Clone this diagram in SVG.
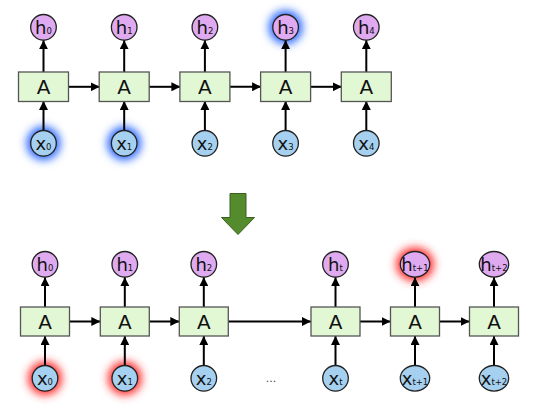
<svg xmlns="http://www.w3.org/2000/svg" width="544" height="406" viewBox="0 0 544 406">
<defs>
<marker id="ah" viewBox="0 0 10 10" refX="10" refY="5" markerWidth="9" markerHeight="9" markerUnits="userSpaceOnUse" orient="auto"><path d="M0,0 L10,5 L0,10 z" fill="#000"/></marker>
<filter id="blur" x="-1" y="-1" width="3" height="3"><feGaussianBlur stdDeviation="4"/></filter>
<style>
.box{fill:#e2f7d4;stroke:#555;stroke-width:1.3}
.h{fill:#dfaaf0;stroke:#222;stroke-width:1.3}
.x{fill:#a5d0ef;stroke:#222;stroke-width:1.3}
.ln{stroke:#000;stroke-width:2;fill:none;marker-end:url(#ah)}
.A{font-family:"DejaVu Sans",sans-serif;font-size:20px;fill:#111;text-anchor:middle}
.t{font-family:"DejaVu Sans",sans-serif;font-size:18px;fill:#111;text-anchor:middle}
.s{font-size:8.5px}
.gb{fill:#2f6bff;filter:url(#blur)}
.gr{fill:#ff3030;filter:url(#blur)}
</style>
</defs>
<rect width="544" height="406" fill="#fff"/>
<g id="glows">
<circle class="gb" cx="43.5" cy="143.3" r="17"/>
<circle class="gb" cx="124.2" cy="143.3" r="17"/>
<circle class="gb" cx="285.6" cy="27.3" r="17"/>
<circle class="gr" cx="45" cy="378.3" r="17"/>
<circle class="gr" cx="124.8" cy="378.3" r="17"/>
<ellipse class="gr" cx="415" cy="264.3" rx="19" ry="17"/>
</g>
<g id="connectors">
<path class="ln" d="M43.5,130.5 V101"/><path class="ln" d="M43.5,72 V40.2"/>
<path class="ln" d="M124.2,130.5 V101"/><path class="ln" d="M124.2,72 V40.2"/>
<path class="ln" d="M204.9,130.5 V101"/><path class="ln" d="M204.9,72 V40.2"/>
<path class="ln" d="M285.6,130.5 V101"/><path class="ln" d="M285.6,72 V40.2"/>
<path class="ln" d="M366.3,130.5 V101"/><path class="ln" d="M366.3,72 V40.2"/>
<path class="ln" d="M68.5,86.8 H99.7"/>
<path class="ln" d="M149.2,86.8 H180.4"/>
<path class="ln" d="M229.9,86.8 H261.1"/>
<path class="ln" d="M310.6,86.8 H341.8"/>
<path class="ln" d="M45,365.5 V336"/><path class="ln" d="M45,307 V277.2"/>
<path class="ln" d="M124.8,365.5 V336"/><path class="ln" d="M124.8,307 V277.2"/>
<path class="ln" d="M203.8,365.5 V336"/><path class="ln" d="M203.8,307 V277.2"/>
<path class="ln" d="M335.5,365.5 V336"/><path class="ln" d="M335.5,307 V277.2"/>
<path class="ln" d="M415,365.5 V336"/><path class="ln" d="M415,307 V277.2"/>
<path class="ln" d="M494,365.5 V336"/><path class="ln" d="M494,307 V277.2"/>
<path class="ln" d="M69.5,321.5 H100.3"/>
<path class="ln" d="M149.3,321.5 H179.3"/>
<path class="ln" d="M228.3,321.5 H311"/>
<path class="ln" d="M360,321.5 H390.5"/>
<path class="ln" d="M439.5,321.5 H469.5"/>
</g>
<g id="top-A0"><rect class="box" x="18.5" y="72" width="50" height="29.5"/><text class="A" x="43.5" y="94">A</text></g>
<g id="top-A1"><rect class="box" x="99.2" y="72" width="50" height="29.5"/><text class="A" x="124.2" y="94">A</text></g>
<g id="top-A2"><rect class="box" x="179.9" y="72" width="50" height="29.5"/><text class="A" x="204.9" y="94">A</text></g>
<g id="top-A3"><rect class="box" x="260.6" y="72" width="50" height="29.5"/><text class="A" x="285.6" y="94">A</text></g>
<g id="top-A4"><rect class="box" x="341.3" y="72" width="50" height="29.5"/><text class="A" x="366.3" y="94">A</text></g>
<g id="top-h0"><circle class="h" cx="43.5" cy="27.3" r="12.8"/><text class="t" x="43.5" y="33.5">h<tspan class="s">0</tspan></text></g>
<g id="top-h1"><circle class="h" cx="124.2" cy="27.3" r="12.8"/><text class="t" x="124.2" y="33.5">h<tspan class="s">1</tspan></text></g>
<g id="top-h2"><circle class="h" cx="204.9" cy="27.3" r="12.8"/><text class="t" x="204.9" y="33.5">h<tspan class="s">2</tspan></text></g>
<g id="top-h3"><circle class="h" cx="285.6" cy="27.3" r="12.8"/><text class="t" x="285.6" y="33.5">h<tspan class="s">3</tspan></text></g>
<g id="top-h4"><circle class="h" cx="366.3" cy="27.3" r="12.8"/><text class="t" x="366.3" y="33.5">h<tspan class="s">4</tspan></text></g>
<g id="top-x0"><circle class="x" cx="43.5" cy="143.3" r="12.8"/><text class="t" x="43.5" y="149.5">x<tspan class="s">0</tspan></text></g>
<g id="top-x1"><circle class="x" cx="124.2" cy="143.3" r="12.8"/><text class="t" x="124.2" y="149.5">x<tspan class="s">1</tspan></text></g>
<g id="top-x2"><circle class="x" cx="204.9" cy="143.3" r="12.8"/><text class="t" x="204.9" y="149.5">x<tspan class="s">2</tspan></text></g>
<g id="top-x3"><circle class="x" cx="285.6" cy="143.3" r="12.8"/><text class="t" x="285.6" y="149.5">x<tspan class="s">3</tspan></text></g>
<g id="top-x4"><circle class="x" cx="366.3" cy="143.3" r="12.8"/><text class="t" x="366.3" y="149.5">x<tspan class="s">4</tspan></text></g>
<g id="arrow-down"><path d="M230,193.5 H246 V217.5 H254.5 L238,234.5 L221.5,217.5 H230 Z" fill="#548b2c" stroke="#3a5f1e" stroke-width="1"/></g>
<g id="bot-A0"><rect class="box" x="20.5" y="307" width="49" height="29"/><text class="A" x="45" y="329">A</text></g>
<g id="bot-A1"><rect class="box" x="100.3" y="307" width="49" height="29"/><text class="A" x="124.8" y="329">A</text></g>
<g id="bot-A2"><rect class="box" x="179.3" y="307" width="49" height="29"/><text class="A" x="203.8" y="329">A</text></g>
<g id="bot-At"><rect class="box" x="311" y="307" width="49" height="29"/><text class="A" x="335.5" y="329">A</text></g>
<g id="bot-At1"><rect class="box" x="390.5" y="307" width="49" height="29"/><text class="A" x="415" y="329">A</text></g>
<g id="bot-At2"><rect class="box" x="469.5" y="307" width="49" height="29"/><text class="A" x="494" y="329">A</text></g>
<g id="bot-h0"><circle class="h" cx="45" cy="264.3" r="12.8"/><text class="t" x="45" y="270.5">h<tspan class="s">0</tspan></text></g>
<g id="bot-h1"><circle class="h" cx="124.8" cy="264.3" r="12.8"/><text class="t" x="124.8" y="270.5">h<tspan class="s">1</tspan></text></g>
<g id="bot-h2"><circle class="h" cx="203.8" cy="264.3" r="12.8"/><text class="t" x="203.8" y="270.5">h<tspan class="s">2</tspan></text></g>
<g id="bot-ht"><circle class="h" cx="335.5" cy="264.3" r="12.8"/><text class="t" x="335.5" y="270.5">h<tspan class="s">t</tspan></text></g>
<g id="bot-ht1"><ellipse class="h" cx="415" cy="264.3" rx="14.7" ry="12.8"/><text class="t" x="415" y="270.5">h<tspan class="s">t+1</tspan></text></g>
<g id="bot-ht2"><ellipse class="h" cx="494" cy="264.3" rx="14.7" ry="12.8"/><text class="t" x="494" y="270.5">h<tspan class="s">t+2</tspan></text></g>
<g id="bot-x0"><circle class="x" cx="45" cy="378.3" r="12.8"/><text class="t" x="45" y="384.5">x<tspan class="s">0</tspan></text></g>
<g id="bot-x1"><circle class="x" cx="124.8" cy="378.3" r="12.8"/><text class="t" x="124.8" y="384.5">x<tspan class="s">1</tspan></text></g>
<g id="bot-x2"><circle class="x" cx="203.8" cy="378.3" r="12.8"/><text class="t" x="203.8" y="384.5">x<tspan class="s">2</tspan></text></g>
<g id="bot-xt"><circle class="x" cx="335.5" cy="378.3" r="12.8"/><text class="t" x="335.5" y="384.5">x<tspan class="s">t</tspan></text></g>
<g id="bot-xt1"><ellipse class="x" cx="415" cy="378.3" rx="14.7" ry="12.8"/><text class="t" x="415" y="384.5">x<tspan class="s">t+1</tspan></text></g>
<g id="bot-xt2"><ellipse class="x" cx="494" cy="378.3" rx="14.7" ry="12.8"/><text class="t" x="494" y="384.5">x<tspan class="s">t+2</tspan></text></g>
<text x="271" y="382" font-family="DejaVu Sans, sans-serif" font-size="11" fill="#444" text-anchor="middle">...</text>
</svg>
